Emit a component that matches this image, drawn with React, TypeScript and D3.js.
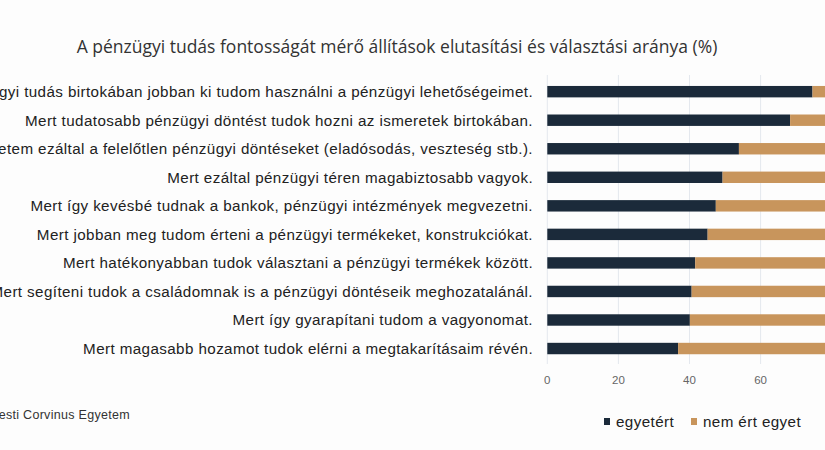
import React from "react";
import * as d3 from "d3";

const title = "A pénzügyi tudás fontosságát mérő állítások elutasítási és választási aránya (%)";
const categories = [
  "Mert a pénzügyi tudás birtokában jobban ki tudom használni a pénzügyi lehetőségeimet.",
  "Mert tudatosabb pénzügyi döntést tudok hozni az ismeretek birtokában.",
  "Mert elkerülhetem ezáltal a felelőtlen pénzügyi döntéseket (eladósodás, veszteség stb.).",
  "Mert ezáltal pénzügyi téren magabiztosabb vagyok.",
  "Mert így kevésbé tudnak a bankok, pénzügyi intézmények megvezetni.",
  "Mert jobban meg tudom érteni a pénzügyi termékeket, konstrukciókat.",
  "Mert hatékonyabban tudok választani a pénzügyi termékek között.",
  "Mert segíteni tudok a családomnak is a pénzügyi döntéseik meghozatalánál.",
  "Mert így gyarapítani tudom a vagyonomat.",
  "Mert magasabb hozamot tudok elérni a megtakarításaim révén.",
];
const agree = [74.6, 68.3, 53.9, 49.3, 47.4, 45.1, 41.6, 40.6, 40.1, 36.8];
const disagree = agree.map((v) => 100 - v);
const seriesNames = ["egyetért", "nem ért egyet"];
const seriesColors = ["#1b2a3a", "#c8955c"];
const ticks = [0, 20, 40, 60, 80, 100];
const source = "Forrás: Budapesti Corvinus Egyetem";

const sans = "'Liberation Sans', Arial, sans-serif";

export default function App() {
  const W = 825, H = 450;
  const x = d3.scaleLinear().domain([0, 100]).range([547.3, 902.8]);
  const y = d3.scaleBand<string>().domain(categories).range([77.4, 362.8]).paddingInner(0.6).paddingOuter(0.3);
  const rows = categories.map((c, i) => ({ c, a: agree[i], d: disagree[i] }));
  return (
    <div style={{ position: "absolute", left: 0, top: 0, width: W, height: H, overflow: "hidden" }}>
      <svg width={W} height={H} style={{ display: "block", background: "#fdfdfd" }}>
        <text x={397} y={53} textAnchor="middle" fontFamily="'Open Sans', sans-serif" fontSize={17.5} fill="#333">{title}</text>
        {ticks.map((t) => (
          <g key={t}>
            <line x1={x(t)} x2={x(t)} y1={75} y2={364} stroke="#e4e8ee" strokeWidth={1} />
            <text x={x(t)} y={384} textAnchor="middle" fontFamily={sans} fontSize={11.5} fill="#666">{t}</text>
          </g>
        ))}
        {rows.map((r) => (
          <g key={r.c}>
            <rect x={x(0)} y={y(r.c)!} width={x(r.a) - x(0)} height={y.bandwidth()} fill={seriesColors[0]} />
            <rect x={x(r.a)} y={y(r.c)!} width={x(r.a + r.d) - x(r.a)} height={y.bandwidth()} fill={seriesColors[1]} />
            <text x={533} y={y(r.c)! + y.bandwidth() / 2} dy="0.35em" textAnchor="end" fontFamily={sans} fontSize={15.2} letterSpacing={0.4} fill="#222">{r.c}</text>
          </g>
        ))}
        <text x={130} y={419} textAnchor="end" fontFamily={sans} fontSize={12.5} letterSpacing={0.3} fill="#333">{source}</text>
        <rect x={604} y={418} width={6} height={7} fill={seriesColors[0]} />
        <text x={616} y={422} dy="0.35em" fontFamily={sans} fontSize={15.2} letterSpacing={0.4} fill="#222">{seriesNames[0]}</text>
        <rect x={691} y={418} width={6} height={7} fill={seriesColors[1]} />
        <text x={703} y={422} dy="0.35em" fontFamily={sans} fontSize={15.2} letterSpacing={0.4} fill="#222">{seriesNames[1]}</text>
      </svg>
    </div>
  );
}
